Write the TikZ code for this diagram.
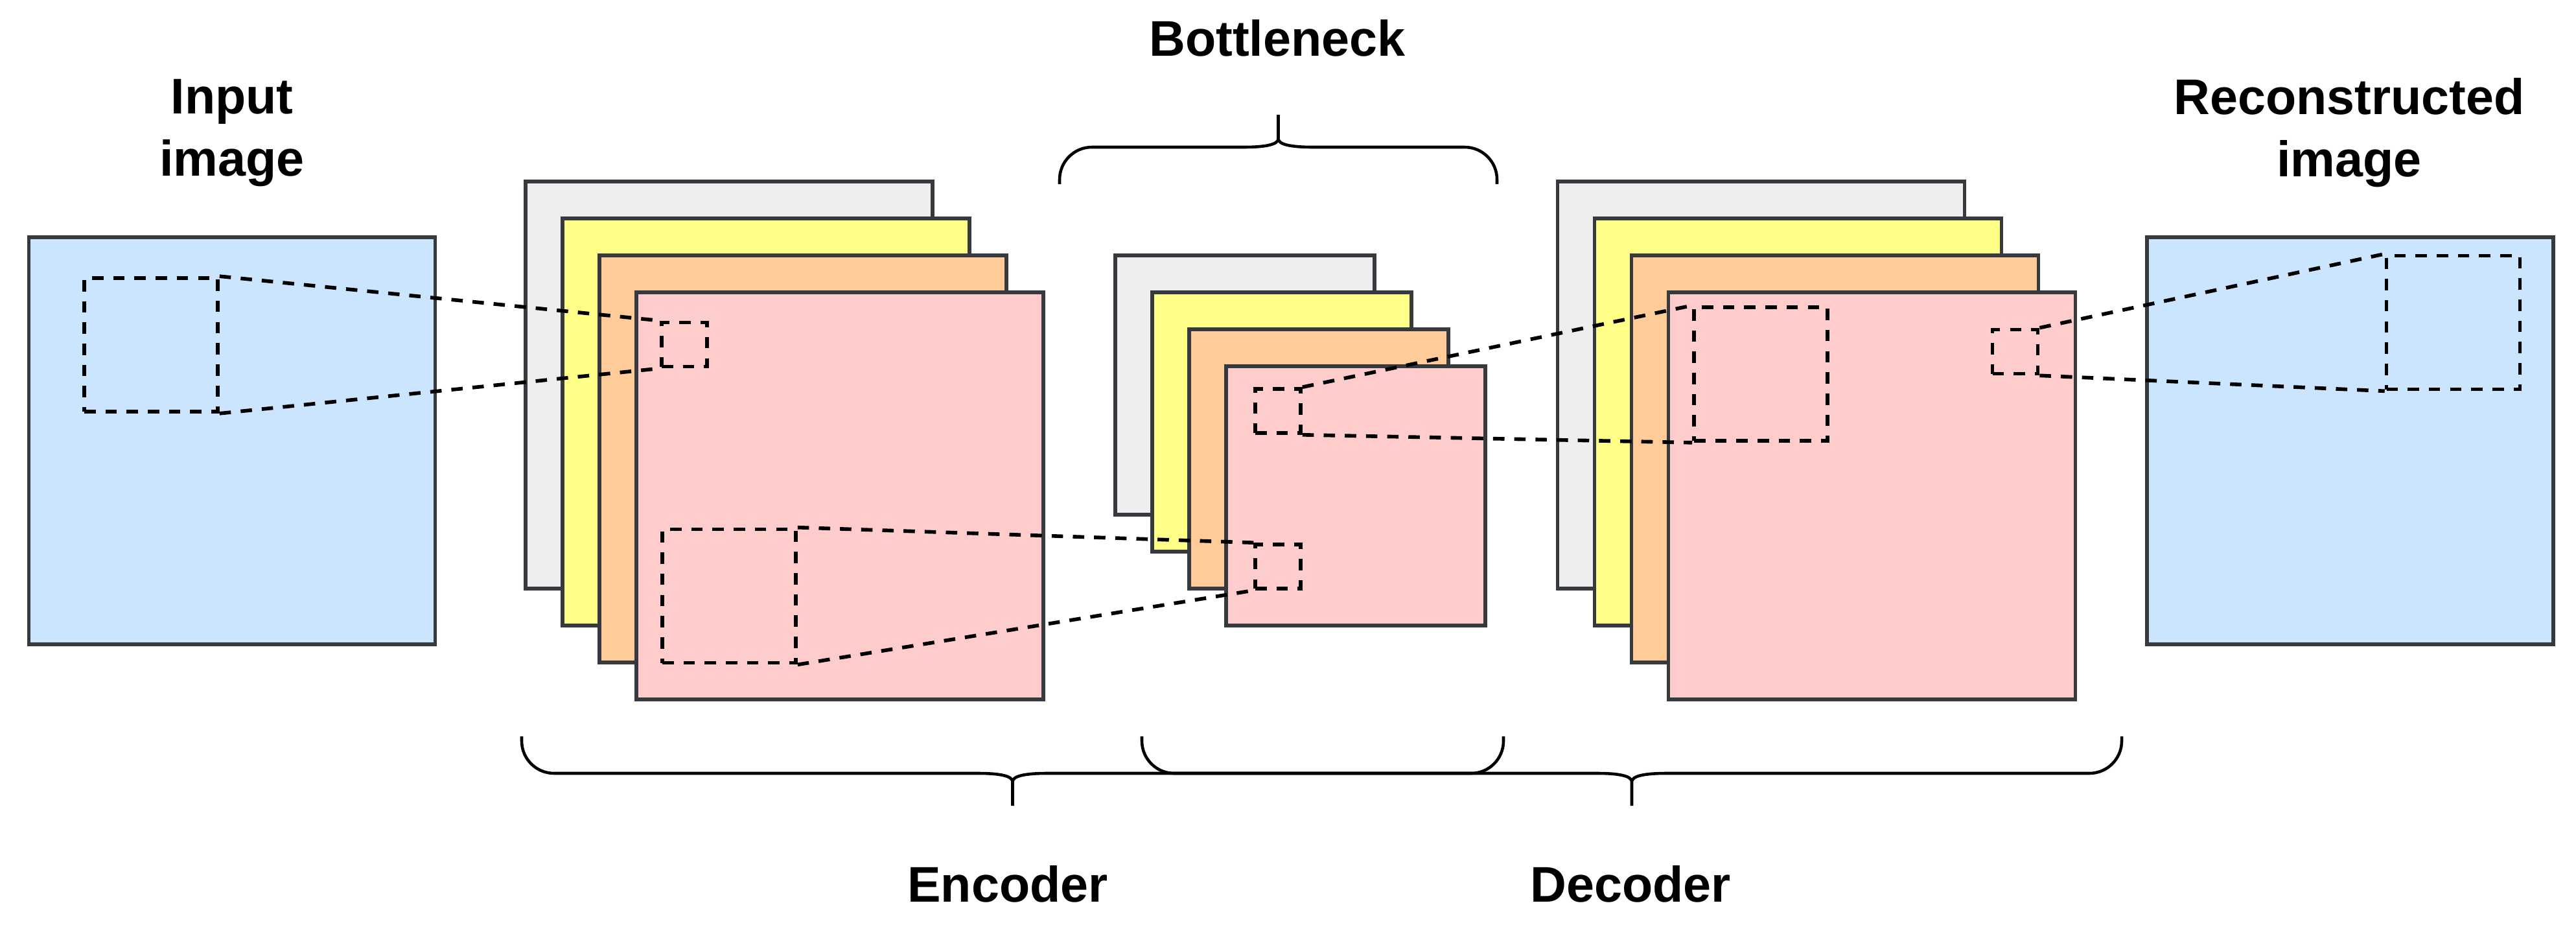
\documentclass[tikz,border=0pt]{standalone}
\usepackage{fontspec}
\setmainfont{Liberation Sans}
\usepackage{tikz}
\definecolor{layergray}{HTML}{EEEEEE}
\definecolor{layeryellow}{HTML}{FFFF88}
\definecolor{layerorange}{HTML}{FFCC99}
\definecolor{layerpink}{HTML}{FFCCCC}
\definecolor{imageblue}{HTML}{CCE5FF}
\definecolor{edgegray}{HTML}{36393D}
\tikzset{
  imgbox/.style={draw=edgegray, fill=imageblue, line width=1.5pt, minimum width=6.27cm, minimum height=6.28cm, inner sep=0pt},
  fmapbig/.style={draw=edgegray, line width=1.5pt, minimum width=6.28cm, minimum height=6.28cm, inner sep=0pt},
  fmapsmall/.style={draw=edgegray, line width=1.5pt, minimum width=4cm, minimum height=4cm, inner sep=0pt},
  dashline/.style={line width=1.6pt, dash pattern=on 5pt off 4.3pt},
  patchbig/.style={draw, dashline, minimum width=2.06cm, minimum height=2.06cm, inner sep=0pt},
  patchsmall/.style={draw, dashline, minimum width=0.7cm, minimum height=0.68cm, inner sep=0pt},
  projline/.style={draw, dashline},
  curly/.style={line width=1.3pt},
  lbl/.style={font=\fontsize{22}{27.3}\selectfont\bfseries, align=center, inner sep=0pt}
}
% curly brace: left x, right x, y of the ends, 1 = tip down / -1 = tip up
\newcommand{\curlybrace}[4]{%
  \begin{scope}[shift={(0,#3)}, yscale=#4]
    \draw[curly] (#1,0) -- (#1,-0.07) arc[start angle=180, end angle=270, radius=0.5]
      -- ({(#1+#2)/2-0.53},-0.57) .. controls ({(#1+#2)/2-0.2},-0.57) and ({(#1+#2)/2},-0.61) .. ({(#1+#2)/2},-0.70)
      -- ({(#1+#2)/2},-1.07)
      ({(#1+#2)/2},-0.70) .. controls ({(#1+#2)/2},-0.61) and ({(#1+#2)/2+0.2},-0.57) .. ({(#1+#2)/2+0.53},-0.57)
      -- ({#2-0.5},-0.57) arc[start angle=270, end angle=360, radius=0.5] -- (#2,0);
  \end{scope}}

\begin{document}
\begin{tikzpicture}
\useasboundingbox (0,0) rectangle (39.75,-14.26);
% input and output images
\node[imgbox] (input) at (3.58,-6.80) {};
\node[imgbox] (output) at (36.265,-6.80) {};
% feature map stacks
\foreach \col [count=\i from 0] in {layergray,layeryellow,layerorange,layerpink} {
  \node[fmapbig, fill=\col] (enc\i) at ({11.25+0.57*\i},{-5.94-0.57*\i}) {};
  \node[fmapsmall, fill=\col] (bot\i) at ({19.21+0.57*\i},{-5.94-0.57*\i}) {};
  \node[fmapbig, fill=\col] (dec\i) at ({27.175+0.57*\i},{-5.94-0.57*\i}) {};
}
% receptive field patches
\node[patchbig] (inpatch) at (2.33,-5.32) {};
\node[patchsmall] (encin) at (10.56,-5.315) {};
\node[patchbig] (encout) at (11.25,-9.195) {};
\node[patchsmall] (botin) at (19.72,-8.74) {};
\node[patchsmall] (botout) at (19.72,-6.34) {};
\node[patchbig] (decin) at (27.17,-5.77) {};
\node[patchsmall] (decout) at (31.095,-5.425) {};
\node[patchbig] (outpatch) at (37.855,-4.975) {};
\foreach \a/\b in {inpatch/encin, encout/botin, botout/decin, decout/outpatch} {
  \draw[projline] (\a.north east) -- (\b.north west);
  \draw[projline] (\a.south east) -- (\b.south west);
}
% braces
\curlybrace{16.35}{23.10}{-2.84}{-1}
\curlybrace{8.05}{23.20}{-11.36}{1}
\curlybrace{17.62}{32.74}{-11.36}{1}
% labels
\node[lbl] (inputlbl) at (3.58,-2.05) {Input\\image};
\node[lbl] (outputlbl) at (36.25,-2.05) {Reconstructed\\image};
\node[lbl, anchor=base] (botlbl) at (19.71,-0.86) {Bottleneck};
\node[lbl, anchor=base] (enclbl) at (15.55,-13.91) {Encoder};
\node[lbl, anchor=base] (declbl) at (25.16,-13.91) {Decoder};
\end{tikzpicture}
\end{document}
